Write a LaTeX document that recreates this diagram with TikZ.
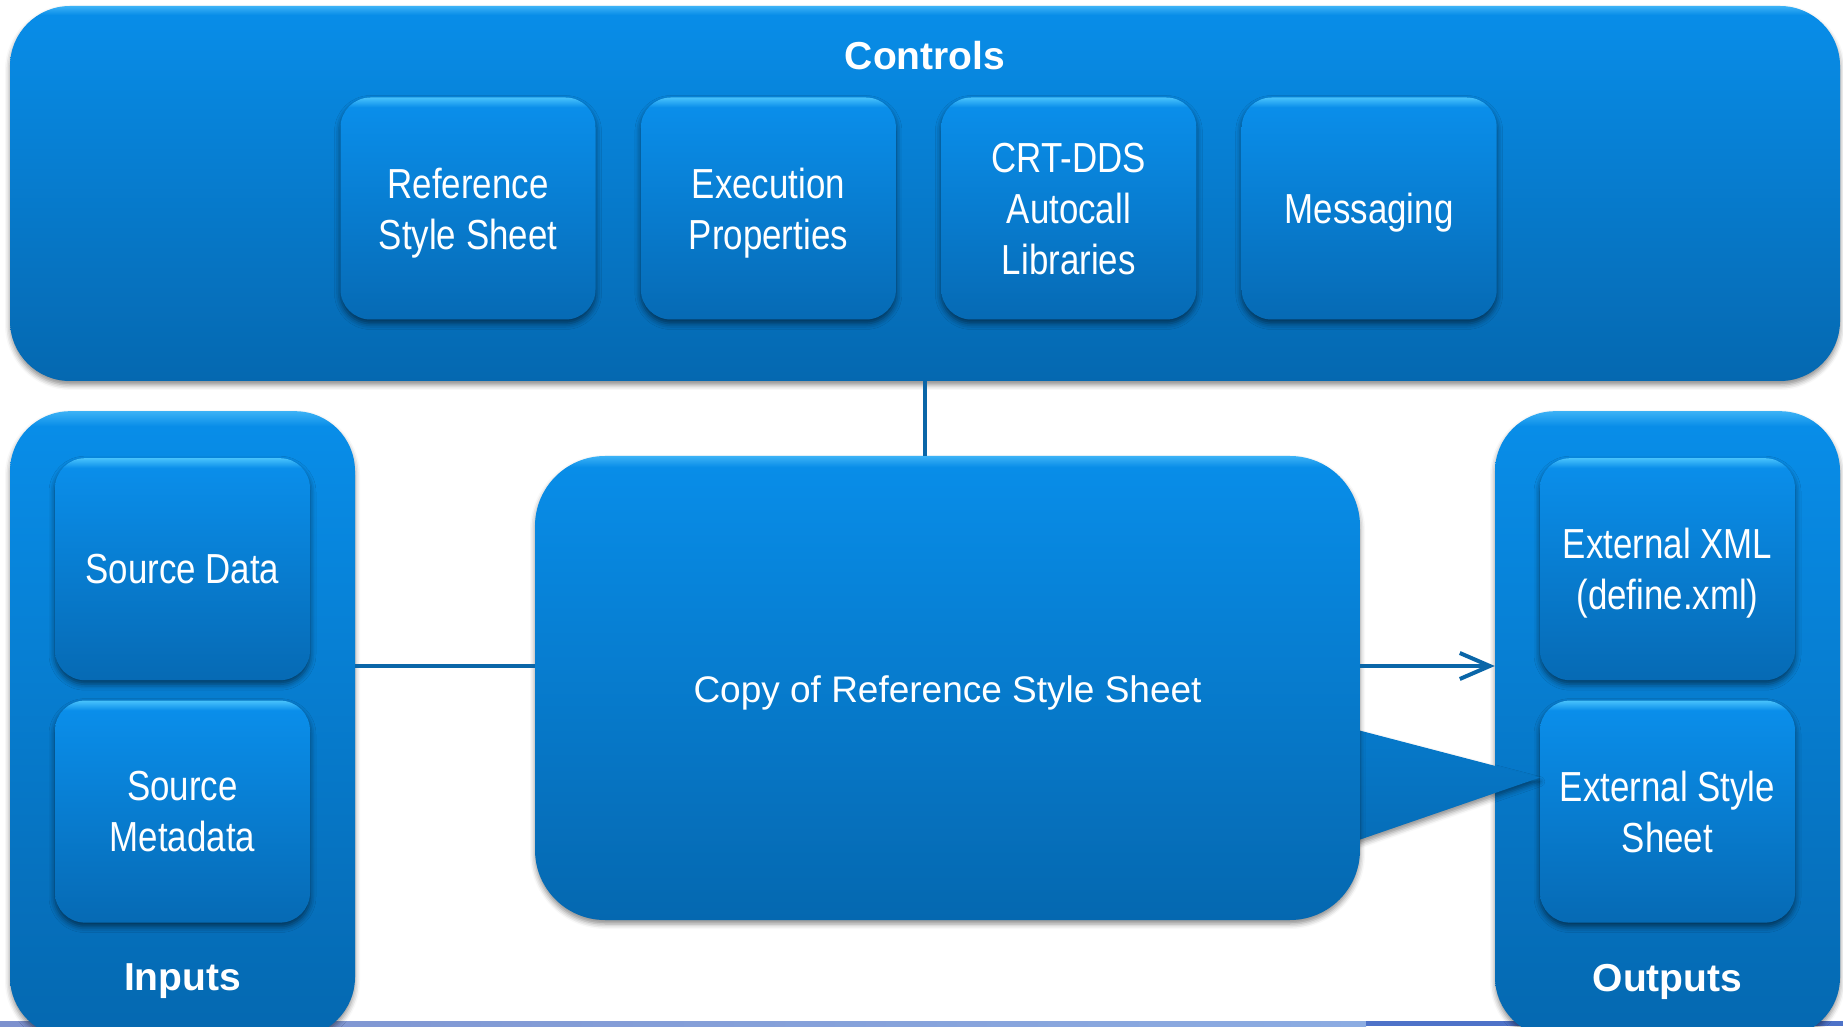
\documentclass[tikz,border=0pt]{standalone}
\usepackage{fontspec}
\setmainfont{Liberation Sans}
\newfontfamily\narrowfont[FakeStretch=0.83]{Liberation Sans}
\usetikzlibrary{positioning,shadows.blur,arrows.meta}

\definecolor{panelTop}{RGB}{8,141,232}
\definecolor{panelBot}{RGB}{5,104,176}
\definecolor{panelHi}{RGB}{60,178,246}
\definecolor{tileTop}{RGB}{10,142,234}
\definecolor{tileBot}{RGB}{6,106,180}
\definecolor{tileHi}{RGB}{72,194,252}
\definecolor{linkBlue}{RGB}{10,102,168}
\definecolor{stripLight}{RGB}{125,145,206}
\definecolor{stripMid}{RGB}{140,172,226}
\definecolor{stripDark}{RGB}{78,114,200}

\pgfdeclareverticalshading{panelshade}{100bp}{color(0bp)=(panelBot); color(25bp)=(panelBot);
  color(73.8bp)=(panelTop); color(75bp)=(panelHi); color(100bp)=(panelHi)}
\pgfdeclareverticalshading{tileshade}{100bp}{color(0bp)=(tileBot); color(25bp)=(tileBot);
  color(72.8bp)=(tileTop); color(75bp)=(tileHi); color(100bp)=(tileHi)}

\begin{document}
\begin{tikzpicture}[x=1pt,y=1pt,node distance=20pt,
  panel/.style={rectangle,rounded corners=60pt,shade,shading=panelshade,
    blur shadow={shadow xshift=0pt,shadow yshift=-4pt,shadow blur radius=5pt,shadow opacity=45}},
  tile/.style={rectangle,rounded corners=30pt,minimum width=255pt,minimum height=222pt,
    shade,shading=tileshade,text=white,align=center,text depth=0pt,
    font=\narrowfont\fontsize{42}{51}\selectfont,
    blur shadow={shadow xshift=0pt,shadow yshift=-4pt,shadow blur radius=6pt,shadow opacity=55}},
  title/.style={text=white,font=\bfseries\fontsize{39}{44}\selectfont},
  link/.style={draw=linkBlue,line width=4pt}]
  \useasboundingbox (0,0) rectangle (1843,1026);
  \shade[left color=stripLight,right color=stripMid] (0,0) rectangle (1366,5);
  \fill[stripDark] (1366,0) rectangle (1843,5);

  % controls row
  \node[panel,minimum width=1830pt,minimum height=375pt] (controls) at (925,832.5) {};
  \node[title] (controlslabel) at (925,970) {Controls};
  \node[tile] (refsheet) at (468,817.5) {Reference\\Style Sheet};
  \node[tile,right=45pt of refsheet] (execprops) {Execution\\Properties};
  \node[tile,right=45pt of execprops] (autocall) {CRT-DDS\\Autocall\\Libraries};
  \node[tile,right=45pt of autocall] (messaging) {Messaging};

  % inputs and outputs
  \node[panel,minimum width=345pt,minimum height=626pt,anchor=north] (inputs) at (182.5,615) {};
  \node[tile,below=47pt of inputs.north] (srcdata) {Source Data};
  \node[tile,below=20pt of srcdata] (srcmeta) {Source\\Metadata};
  \node[title] (inputslabel) at (182.5,44.5) {Inputs};
  \node[panel,minimum width=345pt,minimum height=626pt,anchor=north] (outputs) at (1667.5,615) {};
  \node[tile,below=47pt of outputs.north] (extxml) {External XML\\(define.xml)};
  \node[tile,below=20pt of extxml] (extstyle) {External Style\\Sheet};
  \node[title] (outputslabel) at (1667.5,44.5) {Outputs};

  % copy callout
  \coordinate (flow) at (947.5,360);
  \shade[top color=panelBot!52!panelTop,bottom color=panelBot!86!panelTop,
    blur shadow={shadow xshift=0pt,shadow yshift=-4pt,shadow blur radius=5pt,shadow opacity=45}]
    (1350,298) -- ([yshift=34pt]extstyle.west) -- (1350,183) -- cycle;
  \node[panel,rounded corners=70pt,minimum width=825pt,minimum height=464pt,
    text=white,font=\fontsize{37}{42}\selectfont,text height=37pt,text depth=8pt]
    (copy) at (947.5,338) {Copy of Reference Style Sheet};

  \draw[link] (controls.south) -- (controls.south |- copy.north);
  \draw[link] (inputs.east |- flow) -- (copy.west |- flow);
  \draw[link,-{Straight Barb[length=30pt,width=26pt]}] (copy.east |- flow) -- (outputs.west |- flow);
\end{tikzpicture}
\end{document}
